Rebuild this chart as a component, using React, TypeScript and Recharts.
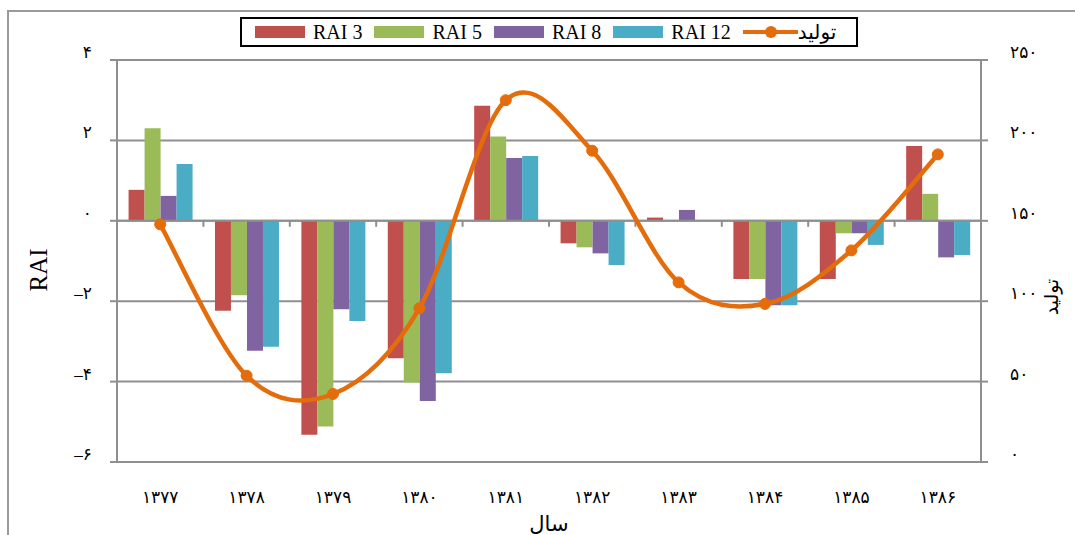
import {
  Bar,
  CartesianGrid,
  ComposedChart,
  Line,
  ReferenceLine,
  XAxis,
  YAxis,
} from "recharts";

const years = ["۱۳۷۷", "۱۳۷۸", "۱۳۷۹", "۱۳۸۰", "۱۳۸۱", "۱۳۸۲", "۱۳۸۳", "۱۳۸۴", "۱۳۸۵", "۱۳۸۶"];
const rai3 = [0.77, -2.24, -5.32, -3.42, 2.86, -0.56, 0.08, -1.45, -1.45, 1.86];
const rai5 = [2.3, -1.85, -5.12, -4.02, 2.1, -0.66, 0.02, -1.45, -0.31, 0.67];
const rai8 = [0.62, -3.23, -2.2, -4.48, 1.56, -0.81, 0.27, -2.1, -0.31, -0.91];
const rai12 = [1.41, -3.13, -2.49, -3.79, 1.61, -1.1, 0.02, -2.1, -0.6, -0.85];
const production = [147.8, 53.7, 42.3, 95.6, 225, 193.6, 111.7, 98.3, 131.6, 191.3];

const leftTicks = [-6, -4, -2, 0, 2, 4];
const leftTickLabels = ["–۶", "–۴", "–۲", "۰", "۲", "۴"];
const rightTicks = [0, 50, 100, 150, 200, 250];
const rightTickLabels = ["۰", "۵۰", "۱۰۰", "۱۵۰", "۲۰۰", "۲۵۰"];

const chartData = years.map((year, i) => ({
  year,
  rai3: rai3[i],
  rai5: rai5[i],
  rai8: rai8[i],
  rai12: rai12[i],
  production: production[i],
}));

const barSeries = [
  { key: "rai3", name: "RAI 3", color: "#C0504D" },
  { key: "rai5", name: "RAI 5", color: "#9BBB59" },
  { key: "rai8", name: "RAI 8", color: "#8064A2" },
  { key: "rai12", name: "RAI 12", color: "#4BACC6" },
];
const lineName = "تولید";
const LINE_COLOR = "#E46C0A";
const GRID = "#8f8f8f";
const FONT = "'Liberation Serif', 'DejaVu Sans', serif";

// Excel-like smoothed line (Catmull-Rom through every point)
function smoothCurve(context: any) {
  let xs: number[] = [];
  let ys: number[] = [];
  return {
    areaStart() {},
    areaEnd() {},
    lineStart() {
      xs = [];
      ys = [];
    },
    point(x: number, y: number) {
      xs.push(+x);
      ys.push(+y);
    },
    lineEnd() {
      const n = xs.length;
      if (!n) return;
      context.moveTo(xs[0], ys[0]);
      for (let i = 0; i < n - 1; i++) {
        const p0 = Math.max(i - 1, 0);
        const p3 = Math.min(i + 2, n - 1);
        context.bezierCurveTo(
          xs[i] + (xs[i + 1] - xs[p0]) / 6,
          ys[i] + (ys[i + 1] - ys[p0]) / 6,
          xs[i + 1] - (xs[p3] - xs[i]) / 6,
          ys[i + 1] - (ys[p3] - ys[i]) / 6,
          xs[i + 1],
          ys[i + 1],
        );
      }
    },
  };
}

function LeftTick({ x, y, payload }: any) {
  const label = leftTickLabels[leftTicks.indexOf(payload.value)];
  return (
    <text x={x} y={y} dy={-2} textAnchor="end" fontSize={17} fill="#000" fontFamily={FONT}>
      {label}
    </text>
  );
}

function RightTick({ x, y, payload }: any) {
  const label = rightTickLabels[rightTicks.indexOf(payload.value)];
  return (
    <text x={x} y={y} dy={-2} textAnchor="start" fontSize={17} fill="#000" fontFamily={FONT}>
      {label}
    </text>
  );
}

function YearTick({ x, y, payload }: any) {
  return (
    <text x={x} y={y} dy={41} textAnchor="middle" fontSize={17} fill="#000" fontFamily={FONT}>
      {payload.value}
    </text>
  );
}

function ZeroAxis({ x1, x2, y1 }: any) {
  const step = (x2 - x1) / years.length;
  return (
    <g>
      <line x1={x1} x2={x2} y1={y1} y2={y1} stroke={GRID} strokeWidth={2} />
      {years.map((_, i) => (
        <line
          key={i}
          x1={x1 + step * (i + 1)}
          x2={x1 + step * (i + 1)}
          y1={y1}
          y2={y1 + 6}
          stroke={GRID}
          strokeWidth={2}
        />
      ))}
    </g>
  );
}

function Legend() {
  return (
    <div
      style={{
        position: "absolute",
        left: 240,
        top: 17,
        width: 618,
        height: 30,
        boxSizing: "border-box",
        border: "2px solid #000",
        display: "flex",
        alignItems: "center",
        paddingLeft: 13,
        fontFamily: FONT,
        fontSize: 20,
        color: "#000",
        whiteSpace: "nowrap",
      }}
    >
      {barSeries.map((s) => (
        <span key={s.key} style={{ display: "flex", alignItems: "center", marginRight: 12 }}>
          <span style={{ width: 50, height: 12, background: s.color, marginRight: 8 }} />
          {s.name}
        </span>
      ))}
      <span style={{ display: "flex", alignItems: "center" }}>
        <span style={{ position: "relative", width: 55, height: 12 }}>
          <span
            style={{
              position: "absolute",
              left: 0,
              right: 0,
              top: 4,
              height: 4,
              background: LINE_COLOR,
            }}
          />
          <span
            style={{
              position: "absolute",
              left: 22,
              top: 0,
              width: 12,
              height: 12,
              borderRadius: 6,
              background: LINE_COLOR,
            }}
          />
        </span>
        {lineName}
      </span>
    </div>
  );
}

export default function App() {
  return (
    <div
      style={{
        position: "absolute",
        left: 0,
        top: 0,
        width: 1075,
        height: 535,
        background: "#fff",
        overflow: "hidden",
        fontFamily: FONT,
      }}
    >
      <div
        style={{
          position: "absolute",
          left: 7,
          top: 10,
          right: -10,
          bottom: -10,
          borderLeft: "2px solid #9a9a9a",
          borderTop: "2px solid #9a9a9a",
        }}
      />
      <div style={{ position: "absolute", left: 0, top: 0 }}>
        <ComposedChart
          width={1075}
          height={535}
          data={chartData}
          margin={{ top: 60, right: 0, bottom: 0, left: 0 }}
          barCategoryGap="13.4%"
          barGap={0}
        >
          <CartesianGrid yAxisId="left" vertical={false} stroke={GRID} strokeWidth={2} />
          <XAxis
            dataKey="year"
            height={73}
            axisLine={false}
            tickLine={false}
            tickSize={0}
            tickMargin={0}
            tick={<YearTick />}
            interval={0}
            label={(props: any) => {
              const vb = props.viewBox;
              return (
                <text
                  x={vb.x + vb.width / 2}
                  y={vb.y + vb.height - 4}
                  textAnchor="middle"
                  fontSize={21}
                  fill="#000"
                  fontFamily={FONT}
                >
                  سال
                </text>
              );
            }}
          />
          <YAxis
            yAxisId="left"
            width={117}
            domain={[-6, 4]}
            ticks={leftTicks}
            interval={0}
            axisLine={{ stroke: GRID, strokeWidth: 2 }}
            tickLine={{ stroke: GRID, strokeWidth: 2 }}
            tickSize={7}
            tickMargin={18}
            tick={<LeftTick />}
            label={(props: any) => {
              const vb = props.viewBox;
              const cx = vb.x + 38;
              const cy = vb.y + vb.height / 2 + 9;
              return (
                <text
                  x={cx}
                  y={cy}
                  transform={`rotate(-90, ${cx}, ${cy})`}
                  textAnchor="middle"
                  dominantBaseline="central"
                  fontSize={25}
                  fill="#000"
                  fontFamily={FONT}
                >
                  RAI
                </text>
              );
            }}
          />
          <YAxis
            yAxisId="right"
            orientation="right"
            width={94}
            domain={[0, 250]}
            ticks={rightTicks}
            interval={0}
            axisLine={{ stroke: GRID, strokeWidth: 2 }}
            tickLine={{ stroke: GRID, strokeWidth: 2 }}
            tickSize={7}
            tickMargin={22}
            tick={<RightTick />}
            label={(props: any) => {
              const vb = props.viewBox;
              const cx = vb.x + 70;
              const cy = vb.y + vb.height / 2 + 36;
              return (
                <text
                  x={cx}
                  y={cy}
                  transform={`rotate(-90, ${cx}, ${cy})`}
                  textAnchor="middle"
                  dominantBaseline="central"
                  fontSize={19}
                  fill="#000"
                  fontFamily={FONT}
                >
                  {lineName}
                </text>
              );
            }}
          />
          {barSeries.map((s) => (
            <Bar
              key={s.key}
              yAxisId="left"
              dataKey={s.key}
              name={s.name}
              fill={s.color}
              isAnimationActive={false}
            />
          ))}
          <ReferenceLine yAxisId="left" y={0} shape={<ZeroAxis />} />
          <Line
            yAxisId="right"
            dataKey="production"
            name={lineName}
            type={smoothCurve as any}
            stroke={LINE_COLOR}
            strokeWidth={4.5}
            dot={{ r: 5.5, fill: LINE_COLOR, stroke: LINE_COLOR, strokeWidth: 1 }}
            activeDot={false}
            isAnimationActive={false}
          />
        </ComposedChart>
      </div>
      <Legend />
    </div>
  );
}
